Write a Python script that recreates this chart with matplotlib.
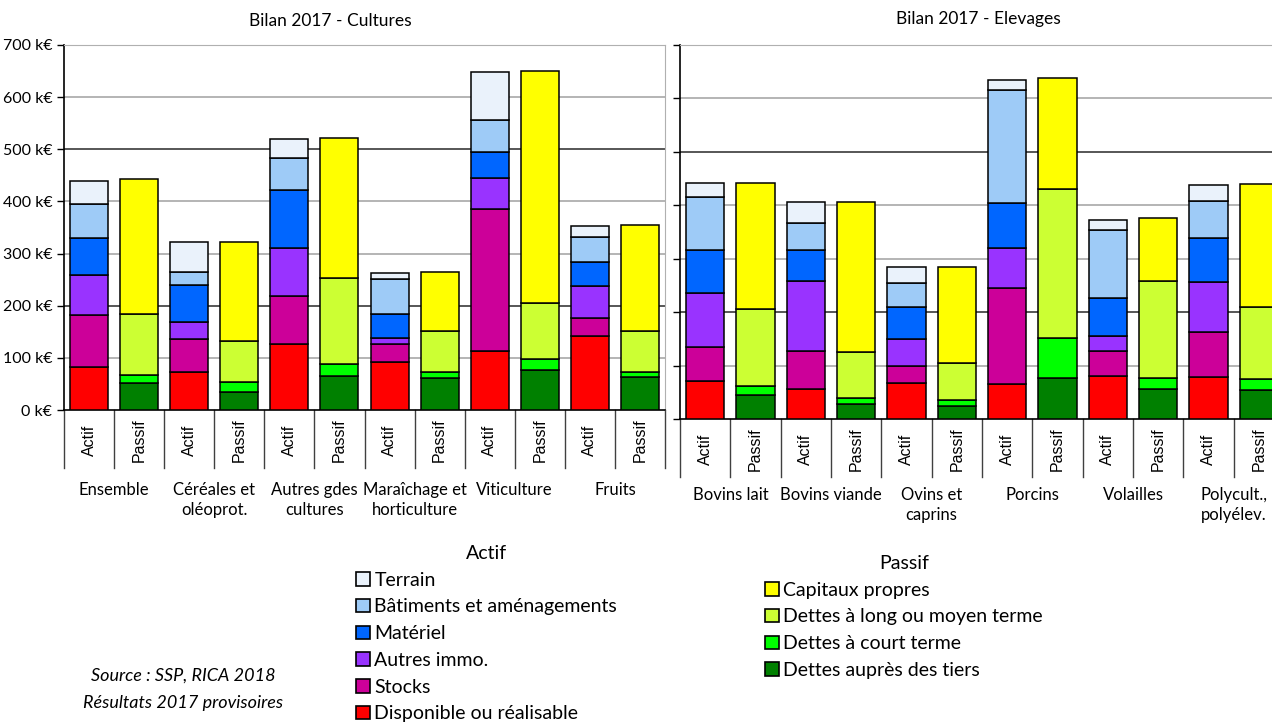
import matplotlib.pyplot as plt
from matplotlib.patches import Patch
from matplotlib.transforms import blended_transform_factory

plt.rcParams['font.family'] = ['Lato', 'DejaVu Sans']

# Valeurs en k€ (segments empilés, du bas vers le haut)
actif_noms = ["Disponible ou réalisable", "Stocks", "Autres immo.", "Matériel",
              "Bâtiments et aménagements", "Terrain"]
actif_couleurs = ["#ff0000", "#cc0099", "#9933ff", "#0066ff", "#9ecbf7", "#eaf2fb"]
passif_noms = ["Dettes auprès des tiers", "Dettes à court terme",
               "Dettes à long ou moyen terme", "Capitaux propres"]
passif_couleurs = ["#008000", "#00ff00", "#ccff33", "#ffff00"]

cultures = ["Ensemble", "Céréales et\noléoprot.", "Autres gdes\ncultures",
            "Maraîchage et\nhorticulture", "Viticulture", "Fruits"]
cult_disponible = [83, 73, 126, 93, 114, 142]
cult_stocks = [99, 64, 93, 33, 271, 34]
cult_immo = [77, 31, 92, 13, 60, 62]
cult_materiel = [71, 72, 110, 45, 50, 46]
cult_batiments = [66, 24, 62, 67, 61, 47]
cult_terrain = [44, 58, 37, 11, 92, 21]
cult_tiers = [51, 35, 66, 62, 77, 64]
cult_court = [16, 19, 22, 11, 21, 8]
cult_long = [118, 79, 166, 79, 107, 80]
cult_capitaux = [258, 189, 268, 112, 445, 202]

elevages = ["Bovins lait", "Bovins viande", "Ovins et\ncaprins", "Porcins",
            "Volailles", "Polycult.,\npolyélev."]
elev_disponible = [72, 57, 68, 65, 81, 79]
elev_stocks = [62, 71, 31, 180, 47, 83]
elev_immo = [102, 131, 50, 75, 28, 94]
elev_materiel = [80, 57, 60, 84, 71, 82]
elev_batiments = [100, 50, 45, 212, 127, 70]
elev_terrain = [26, 41, 30, 19, 19, 30]
elev_tiers = [45, 29, 24, 77, 57, 54]
elev_court = [17, 11, 12, 75, 20, 20]
elev_long = [143, 86, 68, 279, 181, 136]
elev_capitaux = [236, 281, 181, 207, 118, 230]

W, H = 1272, 722
fig = plt.figure(figsize=(W / 100, H / 100), dpi=100)


def px_axes(x0, x1, ytop, ybot):
    return fig.add_axes([x0 / W, 1 - ybot / H, (x1 - x0) / W, (ybot - ytop) / H])


def dessiner(ax, groupes, actif, passif, label_top):
    n = len(groupes)
    for i in range(n):
        bas = 0
        for serie, c in zip(actif, actif_couleurs):
            ax.bar(2 * i, serie[i], bottom=bas, width=0.76, color=c,
                   edgecolor='black', linewidth=1.1, zorder=3)
            bas += serie[i]
        bas = 0
        for serie, c in zip(passif, passif_couleurs):
            ax.bar(2 * i + 1, serie[i], bottom=bas, width=0.76, color=c,
                   edgecolor='black', linewidth=1.1, zorder=3)
            bas += serie[i]
    ax.set_xlim(-0.5, 2 * n - 0.5)
    ax.set_ylim(0, 700)
    ax.set_yticks(range(0, 701, 100))
    for v in range(100, 701, 100):
        ax.axhline(v, color='#3a3a3a' if v in (200, 500) else '#a8a8a8',
                   linewidth=1.2, zorder=1)
    ax.set_xticks([])
    for s in ['top', 'right']:
        ax.spines[s].set_color('#b0b0b0')
    ax.spines['left'].set_linewidth(1.2)
    ax.spines['bottom'].set_linewidth(1.2)
    ax.tick_params(axis='y', length=5, width=1, direction='out')

    # axe des catégories (Actif / Passif + groupes)
    tr = blended_transform_factory(ax.transData, fig.transFigure)
    y0 = ax.get_position().y0
    for k in range(2 * n):
        ax.text(k, y0 - 30 / H, "Actif" if k % 2 == 0 else "Passif",
                rotation=90, ha='center', va='center', fontsize=11.5,
                family='Liberation Sans', transform=tr)
    for k in range(2 * n + 1):
        ax.plot([k - 0.5, k - 0.5], [y0, y0 - 58 / H], color='#404040',
                linewidth=1, transform=tr, clip_on=False)
    for i, g in enumerate(groupes):
        ax.text(2 * i + 0.5, 1 - label_top / H, g, ha='center', va='top',
                fontsize=12, linespacing=1.3, transform=tr)


ax1 = px_axes(64, 665, 45, 410)
dessiner(ax1, cultures,
         [cult_disponible, cult_stocks, cult_immo, cult_materiel, cult_batiments, cult_terrain],
         [cult_tiers, cult_court, cult_long, cult_capitaux], 482)
ax1.set_yticklabels([f"{v} k€" for v in range(0, 701, 100)], fontsize=11.5)

ax2 = px_axes(680, 1284, 45, 419)
dessiner(ax2, elevages,
         [elev_disponible, elev_stocks, elev_immo, elev_materiel, elev_batiments, elev_terrain],
         [elev_tiers, elev_court, elev_long, elev_capitaux], 487)
ax2.set_yticklabels([])

fig.text(330 / W, 1 - 21 / H, "Bilan 2017 - Cultures", ha='center', va='center', fontsize=12.5)
fig.text(978 / W, 1 - 19 / H, "Bilan 2017 - Elevages", ha='center', va='center', fontsize=12.5)

# Légendes
h_actif = [Patch(facecolor=c, edgecolor='black', linewidth=1.2)
           for c in actif_couleurs[::-1]]
h_passif = [Patch(facecolor=c, edgecolor='black', linewidth=1.2)
            for c in passif_couleurs[::-1]]
opts = dict(loc='upper left', frameon=False, fontsize=14, title_fontsize=14,
            handlelength=0.7, handleheight=0.7, handletextpad=0.25,
            labelspacing=0.5, borderpad=0, borderaxespad=0)
fig.legend(h_actif, actif_noms[::-1], title="Actif",
           bbox_to_anchor=(356 / W, 1 - 545 / H), **opts)
fig.legend(h_passif, passif_noms[::-1], title="Passif",
           bbox_to_anchor=(765 / W, 1 - 555 / H), **opts)

fig.text(183 / W, 1 - 676 / H, "Source : SSP, RICA 2018", ha='center', va='center',
         fontsize=13, style='italic')
fig.text(183 / W, 1 - 703 / H, "Résultats 2017 provisoires", ha='center', va='center',
         fontsize=13, style='italic')

fig.savefig("out.png", dpi=100)
